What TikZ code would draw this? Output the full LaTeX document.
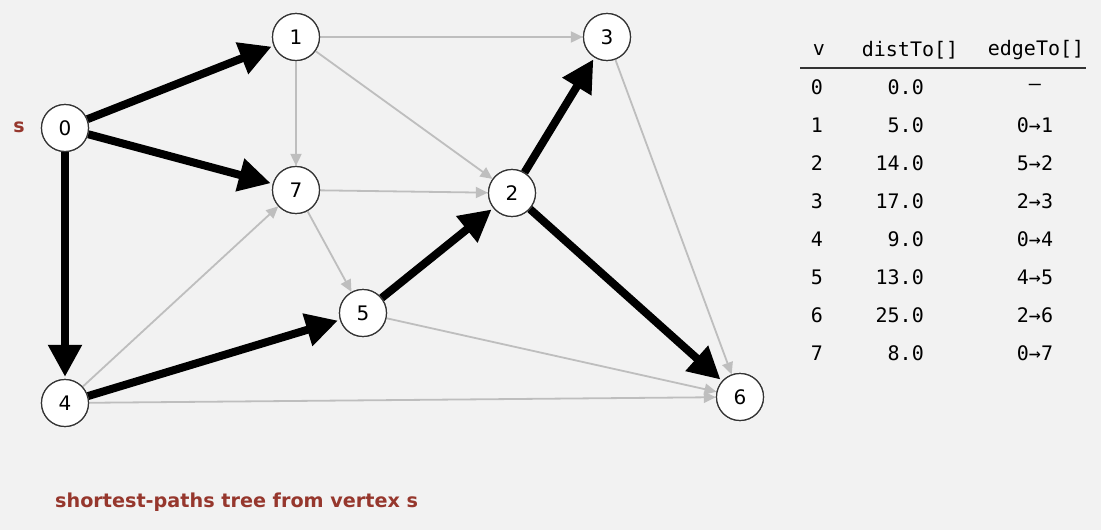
\documentclass[tikz,border=0pt]{standalone}
\usepackage{fontspec}
\setmainfont{DejaVu Sans}
\newfontfamily\monof{DejaVu Sans Mono}
\usetikzlibrary{arrows.meta}
\definecolor{bgc}{RGB}{242,242,242}
\definecolor{redc}{RGB}{150,55,45}
\definecolor{edgec}{RGB}{190,190,190}
\tikzset{
  vtx/.style={circle,draw=black!80,line width=1.2pt,fill=white,minimum size=47pt,inner sep=0pt,font=\fontsize{20}{20}\selectfont},
  light/.style={draw=edgec,line width=1.8pt,-{Triangle[length=12pt,width=11pt]}},
  heavy/.style={draw=black,line width=8pt,-{Triangle[length=32pt,width=32pt]},shorten >=2pt},
  tab/.style={font=\monof\fontsize{20}{20}\selectfont,inner sep=0pt},
}
\begin{document}
\begin{tikzpicture}[x=1pt,y=-1pt]
\fill[bgc] (0,0) rectangle (1101,530);
\useasboundingbox (0,0) rectangle (1101,530);
\node[vtx] (v0) at (65,128) {0};
\node[vtx] (v1) at (296,37) {1};
\node[vtx] (v3) at (607,37) {3};
\node[vtx] (v7) at (296,190) {7};
\node[vtx] (v2) at (512,193) {2};
\node[vtx] (v5) at (363,313) {5};
\node[vtx] (v4) at (65,403) {4};
\node[vtx] (v6) at (740,397) {6};
% light edges
\draw[light] (v1) -- (v3);
\draw[light] (v1) -- (v7);
\draw[light] (v1) -- (v2);
\draw[light] (v7) -- (v2);
\draw[light] (v7) -- (v5);
\draw[light] (v3) -- (v6);
\draw[light] (v5) -- (v6);
\draw[light] (v4) -- (v7);
\draw[light] (v4) -- (v6);
% heavy edges
\draw[heavy] (v0) -- (v1);
\draw[heavy] (v0) -- (v7);
\draw[heavy] (v0) -- (v4);
\draw[heavy] (v4) -- (v5);
\draw[heavy] (v5) -- (v2);
\draw[heavy] (v2) -- (v3);
\draw[heavy] (v2) -- (v6);
% redraw nodes on top
\foreach \p/\t in {{(65,128)}/0,{(296,37)}/1,{(607,37)}/3,{(296,190)}/7,{(512,193)}/2,{(363,313)}/5,{(65,403)}/4,{(740,397)}/6}
  \node[vtx] at \p {\t};
\node[text=redc,font=\bfseries\fontsize{19}{19}\selectfont] (slab) at (19,127) {s};
\node[text=redc,font=\bfseries\fontsize{19.2}{19.2}\selectfont,anchor=west,inner sep=0pt] (cap) at (55,502) {shortest-paths tree from vertex s};
% table
\node[tab] (hv) at (819,50) {v};
\node[tab] (hd) at (910,50) {distTo[]};
\node[tab] (he) at (1036,50) {edgeTo[]};
\coordinate (rl) at (800,68);
\coordinate (rr) at (1086,68);
\draw[line width=1.4pt,black!80] (rl) -- (rr);
\foreach \i/\d/\e [count=\k from 0] in {0/0.0/\raisebox{-4pt}{–},1/5.0/0→1,2/14.0/5→2,3/17.0/2→3,4/9.0/0→4,5/13.0/4→5,6/25.0/2→6,7/8.0/0→7}{
  \node[tab] (c\k) at (817,87+38.1*\k) {\i};
  \node[tab,anchor=east] (d\k) at (924,87+38.1*\k) {\d};
  \node[tab] (e\k) at (1035,87+38.1*\k) {\e};
}
\end{tikzpicture}
\end{document}
